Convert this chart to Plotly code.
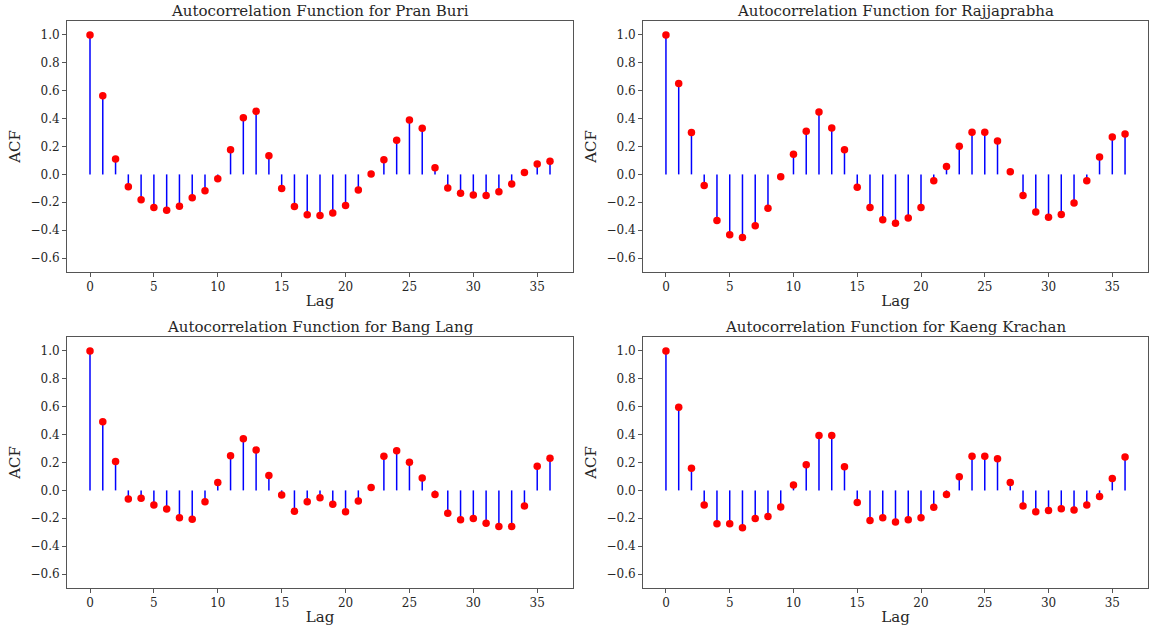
import plotly.graph_objects as go

lags = list(range(37))

names = ["Pran Buri", "Rajjaprabha", "Bang Lang", "Kaeng Krachan"]

acf_pran_buri = [1.0, 0.564, 0.11, -0.088, -0.181, -0.238, -0.257, -0.229, -0.167, -0.117,
                 -0.031, 0.176, 0.407, 0.452, 0.133, -0.102, -0.231, -0.290, -0.295, -0.276,
                 -0.224, -0.112, 0.002, 0.105, 0.245, 0.390, 0.331, 0.048, -0.098, -0.136,
                 -0.148, -0.152, -0.124, -0.069, 0.014, 0.074, 0.095]
acf_rajjaprabha = [1.0, 0.652, 0.300, -0.079, -0.331, -0.433, -0.452, -0.369, -0.243, -0.017,
                   0.145, 0.310, 0.448, 0.333, 0.176, -0.093, -0.238, -0.326, -0.350, -0.312,
                   -0.238, -0.045, 0.057, 0.202, 0.302, 0.302, 0.240, 0.019, -0.152, -0.269,
                   -0.307, -0.288, -0.205, -0.045, 0.124, 0.269, 0.290]
acf_bang_lang = [1.0, 0.492, 0.207, -0.062, -0.057, -0.105, -0.133, -0.197, -0.207, -0.081,
                 0.057, 0.249, 0.371, 0.290, 0.107, -0.033, -0.150, -0.081, -0.052, -0.100,
                 -0.154, -0.076, 0.021, 0.245, 0.285, 0.202, 0.088, -0.029, -0.164, -0.211,
                 -0.202, -0.235, -0.259, -0.259, -0.112, 0.173, 0.230]
acf_kaeng_krachan = [1.0, 0.596, 0.159, -0.105, -0.240, -0.240, -0.268, -0.202, -0.188, -0.119,
                     0.038, 0.183, 0.394, 0.394, 0.169, -0.086, -0.216, -0.197, -0.226, -0.211,
                     -0.197, -0.121, -0.029, 0.097, 0.245, 0.245, 0.226, 0.057, -0.112, -0.154,
                     -0.145, -0.131, -0.140, -0.105, -0.043, 0.086, 0.240]

series = [acf_pran_buri, acf_rajjaprabha, acf_bang_lang, acf_kaeng_krachan]

W, H = 1152, 632
# panel pixel boxes (left, right, top, bottom)
boxes = [(67, 573, 21, 272), (643, 1148, 21, 272), (67, 573, 337, 588), (643, 1148, 337, 588)]
title_centers = [11, 11, 327, 327]

FONT = "DejaVu Serif"
TXT = "#262626"
AX = "#555555"

fig = go.Figure()
layout = dict(
    width=W, height=H, margin=dict(l=0, r=0, t=0, b=0),
    paper_bgcolor="white", plot_bgcolor="white", showlegend=False,
    font=dict(family=FONT, size=12, color=TXT),
)
annotations = []
for i, (name, vals) in enumerate(zip(names, series)):
    k = "" if i == 0 else str(i + 1)
    xa, ya = "x" + k, "y" + k
    sx, sy = [], []
    for lag, v in zip(lags, vals):
        sx += [lag, lag, None]
        sy += [0, v, None]
    fig.add_trace(go.Scatter(x=sx, y=sy, mode="lines", line=dict(color="blue", width=1.5),
                             xaxis=xa, yaxis=ya, hoverinfo="skip"))
    fig.add_trace(go.Scatter(x=lags, y=vals, mode="markers",
                             marker=dict(color="red", size=7.5, line=dict(width=0)),
                             xaxis=xa, yaxis=ya))
    l, r, t, b = boxes[i]
    layout["xaxis" + k] = dict(
        domain=[l / W, r / W], anchor=ya, range=[-1.8, 37.8],
        tickvals=[0, 5, 10, 15, 20, 25, 30, 35], ticks="outside", ticklen=4, tickcolor=AX,
        showline=True, mirror=True, linecolor=AX, linewidth=1, showgrid=False, zeroline=False,
        tickfont=dict(size=12, color=TXT),
        title=dict(text="Lag", font=dict(size=15, color=TXT), standoff=2),
    )
    layout["yaxis" + k] = dict(
        domain=[1 - b / H, 1 - t / H], anchor=xa, range=[-0.7, 1.1],
        tickvals=[-0.6, -0.4, -0.2, 0.0, 0.2, 0.4, 0.6, 0.8, 1.0], tickformat=".1f",
        ticks="outside", ticklen=4, tickcolor=AX,
        showline=True, mirror=True, linecolor=AX, linewidth=1, showgrid=False, zeroline=False,
        tickfont=dict(size=12, color=TXT),
        title=dict(text="ACF", font=dict(size=15, color=TXT), standoff=6),
    )
    annotations.append(dict(
        text="Autocorrelation Function for " + name, x=(l + r) / 2 / W,
        y=1 - title_centers[i] / H,
        xref="paper", yref="paper", xanchor="center", yanchor="middle", showarrow=False,
        font=dict(size=15, color=TXT, family=FONT),
    ))
layout["annotations"] = annotations
fig.update_layout(**layout)
fig.write_html("out.html", config={"displayModeBar": False},
               post_script="document.body.style.margin='0';")
